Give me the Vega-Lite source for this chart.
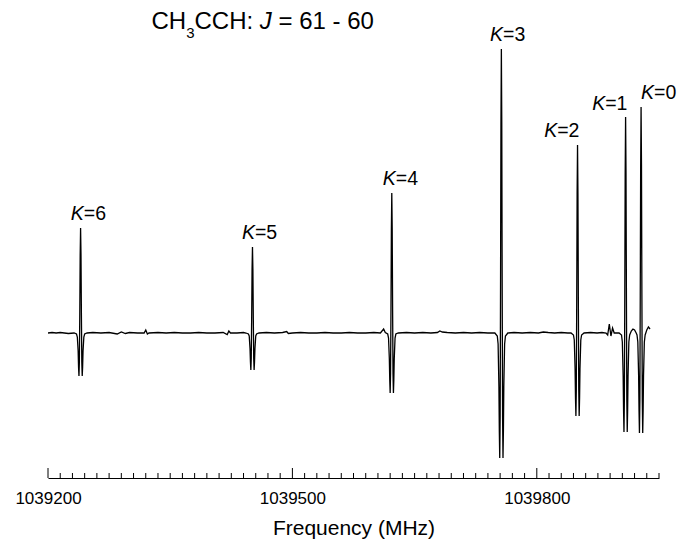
{
  "$schema": "https://vega.github.io/schema/vega-lite/v6.json",
  "width": 611,
  "height": 473,
  "autosize": {"type": "none"},
  "padding": {"left": 48, "top": 5, "right": 35, "bottom": 61},
  "config": {"view": {"stroke": null}, "font": "Liberation Sans"},
  "datasets": {
    "spectrum": [
      {"f": 1039200, "i": 0}, {"f": 1039205, "i": 0.5}, {"f": 1039210, "i": 0}, {"f": 1039215, "i": 0.5}, {"f": 1039220, "i": 0}, {"f": 1039225, "i": -0.5}, {"f": 1039232, "i": 0},
      {"f": 1039235, "i": -1}, {"f": 1039236, "i": -4}, {"f": 1039237, "i": -18}, {"f": 1039237.5, "i": -34}, {"f": 1039238, "i": -43}, {"f": 1039238.5, "i": -29}, {"f": 1039239, "i": 18}, {"f": 1039239.5, "i": 78}, {"f": 1039240, "i": 105}, {"f": 1039240.5, "i": 78}, {"f": 1039241, "i": 18}, {"f": 1039241.5, "i": -29}, {"f": 1039242, "i": -43}, {"f": 1039242.5, "i": -34}, {"f": 1039243, "i": -18}, {"f": 1039244, "i": -4}, {"f": 1039245, "i": -1}, {"f": 1039248, "i": 0},
      {"f": 1039255, "i": 0.5}, {"f": 1039265, "i": 0}, {"f": 1039275, "i": 0.5}, {"f": 1039285, "i": -1}, {"f": 1039290, "i": 1}, {"f": 1039295, "i": -0.5}, {"f": 1039300, "i": 0.5}, {"f": 1039310, "i": 0}, {"f": 1039318, "i": 0}, {"f": 1039320, "i": 3}, {"f": 1039322, "i": -1}, {"f": 1039324, "i": 0}, {"f": 1039335, "i": 0.5}, {"f": 1039345, "i": 0}, {"f": 1039355, "i": 0.5}, {"f": 1039365, "i": 0}, {"f": 1039375, "i": 0}, {"f": 1039385, "i": 0.5}, {"f": 1039395, "i": 0}, {"f": 1039405, "i": 0}, {"f": 1039415, "i": 0.5}, {"f": 1039420, "i": -1.5}, {"f": 1039422, "i": 2}, {"f": 1039424, "i": 0}, {"f": 1039432, "i": 0}, {"f": 1039440, "i": 0.5}, {"f": 1039443, "i": 0},
      {"f": 1039446, "i": -1}, {"f": 1039447, "i": -3}, {"f": 1039448, "i": -16}, {"f": 1039448.5, "i": -29}, {"f": 1039449, "i": -37}, {"f": 1039449.5, "i": -25}, {"f": 1039450, "i": 15}, {"f": 1039450.5, "i": 64}, {"f": 1039451, "i": 86}, {"f": 1039451.5, "i": 64}, {"f": 1039452, "i": 15}, {"f": 1039452.5, "i": -25}, {"f": 1039453, "i": -37}, {"f": 1039453.5, "i": -29}, {"f": 1039454, "i": -16}, {"f": 1039455, "i": -3}, {"f": 1039456, "i": -1}, {"f": 1039459, "i": 0},
      {"f": 1039468, "i": 0.5}, {"f": 1039478, "i": 0}, {"f": 1039488, "i": 0.5}, {"f": 1039493, "i": 1.5}, {"f": 1039495, "i": -0.5}, {"f": 1039500, "i": 0}, {"f": 1039510, "i": 0.5}, {"f": 1039520, "i": 0}, {"f": 1039530, "i": 0}, {"f": 1039540, "i": 0.5}, {"f": 1039550, "i": 0}, {"f": 1039560, "i": 0}, {"f": 1039570, "i": 0.5}, {"f": 1039580, "i": 0}, {"f": 1039590, "i": 0}, {"f": 1039600, "i": 0.5}, {"f": 1039608, "i": 0}, {"f": 1039612, "i": 4}, {"f": 1039614, "i": 0.5},
      {"f": 1039617, "i": -1}, {"f": 1039618, "i": -5}, {"f": 1039619, "i": -26}, {"f": 1039619.5, "i": -47}, {"f": 1039620, "i": -60}, {"f": 1039620.5, "i": -40}, {"f": 1039621, "i": 24}, {"f": 1039621.5, "i": 104}, {"f": 1039622, "i": 140}, {"f": 1039622.5, "i": 104}, {"f": 1039623, "i": 24}, {"f": 1039623.5, "i": -40}, {"f": 1039624, "i": -60}, {"f": 1039624.5, "i": -47}, {"f": 1039625, "i": -26}, {"f": 1039626, "i": -5}, {"f": 1039627, "i": -1}, {"f": 1039630, "i": 0},
      {"f": 1039640, "i": 0.5}, {"f": 1039650, "i": 0}, {"f": 1039660, "i": 0.5}, {"f": 1039670, "i": 0}, {"f": 1039678, "i": 0.5}, {"f": 1039681, "i": 2}, {"f": 1039684, "i": 1}, {"f": 1039690, "i": 0.5}, {"f": 1039700, "i": 0}, {"f": 1039710, "i": 0.5}, {"f": 1039720, "i": 0}, {"f": 1039730, "i": 0.5}, {"f": 1039740, "i": 0}, {"f": 1039748.5, "i": 0},
      {"f": 1039751.5, "i": -3}, {"f": 1039752.5, "i": -11}, {"f": 1039753.5, "i": -54}, {"f": 1039754, "i": -98}, {"f": 1039754.5, "i": -125}, {"f": 1039755, "i": -84}, {"f": 1039755.5, "i": 48}, {"f": 1039756, "i": 210}, {"f": 1039756.5, "i": 284}, {"f": 1039757, "i": 210}, {"f": 1039757.5, "i": 48}, {"f": 1039758, "i": -84}, {"f": 1039758.5, "i": -125}, {"f": 1039759, "i": -98}, {"f": 1039759.5, "i": -54}, {"f": 1039760.5, "i": -11}, {"f": 1039761.5, "i": -3}, {"f": 1039764.5, "i": 0},
      {"f": 1039772, "i": 0.5}, {"f": 1039782, "i": 0}, {"f": 1039792, "i": 0.5}, {"f": 1039802, "i": 0}, {"f": 1039808, "i": 1}, {"f": 1039814, "i": 0.5}, {"f": 1039822, "i": 0}, {"f": 1039830, "i": 0.5}, {"f": 1039838, "i": 0}, {"f": 1039842, "i": 0},
      {"f": 1039845, "i": -2}, {"f": 1039846, "i": -7}, {"f": 1039847, "i": -36}, {"f": 1039847.5, "i": -65}, {"f": 1039848, "i": -83}, {"f": 1039848.5, "i": -56}, {"f": 1039849, "i": 32}, {"f": 1039849.5, "i": 139}, {"f": 1039850, "i": 188}, {"f": 1039850.5, "i": 139}, {"f": 1039851, "i": 32}, {"f": 1039851.5, "i": -56}, {"f": 1039852, "i": -83}, {"f": 1039852.5, "i": -65}, {"f": 1039853, "i": -36}, {"f": 1039854, "i": -7}, {"f": 1039855, "i": -2}, {"f": 1039858, "i": 0},
      {"f": 1039866, "i": 0.5}, {"f": 1039874, "i": 0}, {"f": 1039880, "i": 0.5}, {"f": 1039885, "i": 0}, {"f": 1039887, "i": -2}, {"f": 1039889, "i": 9}, {"f": 1039891, "i": -3}, {"f": 1039893, "i": 5}, {"f": 1039895, "i": 0}, {"f": 1039901, "i": 0},
      {"f": 1039904, "i": -2}, {"f": 1039905, "i": -9}, {"f": 1039906, "i": -43}, {"f": 1039906.5, "i": -77}, {"f": 1039907, "i": -99}, {"f": 1039907.5, "i": -66}, {"f": 1039908, "i": 37}, {"f": 1039908.5, "i": 160}, {"f": 1039909, "i": 216}, {"f": 1039909.5, "i": 160}, {"f": 1039910, "i": 37}, {"f": 1039910.5, "i": -66}, {"f": 1039911, "i": -99}, {"f": 1039911.5, "i": -77}, {"f": 1039912, "i": -43}, {"f": 1039913, "i": -9},
      {"f": 1039914, "i": -2}, {"f": 1039916, "i": 2}, {"f": 1039918, "i": 4}, {"f": 1039920, "i": 3}, {"f": 1039922, "i": 0},
      {"f": 1039923, "i": -2}, {"f": 1039924, "i": -9}, {"f": 1039925, "i": -43}, {"f": 1039925.5, "i": -78}, {"f": 1039926, "i": -100}, {"f": 1039926.5, "i": -67}, {"f": 1039927, "i": 38}, {"f": 1039927.5, "i": 167}, {"f": 1039928, "i": 226}, {"f": 1039928.5, "i": 167}, {"f": 1039929, "i": 38}, {"f": 1039929.5, "i": -67}, {"f": 1039930, "i": -100}, {"f": 1039930.5, "i": -78}, {"f": 1039931, "i": -43}, {"f": 1039932, "i": -9}, {"f": 1039933, "i": -2}, {"f": 1039935, "i": 3}, {"f": 1039937, "i": 6}, {"f": 1039939, "i": 4}
    ],
    "minorTicks": [
      {"f": 1039215}, {"f": 1039230}, {"f": 1039245}, {"f": 1039260}, {"f": 1039275}, {"f": 1039290}, {"f": 1039305}, {"f": 1039320}, {"f": 1039335}, {"f": 1039350}, {"f": 1039365}, {"f": 1039380}, {"f": 1039395}, {"f": 1039410}, {"f": 1039425}, {"f": 1039440}, {"f": 1039455}, {"f": 1039470}, {"f": 1039485},
      {"f": 1039515}, {"f": 1039530}, {"f": 1039545}, {"f": 1039560}, {"f": 1039575}, {"f": 1039590}, {"f": 1039605}, {"f": 1039620}, {"f": 1039635}, {"f": 1039650}, {"f": 1039665}, {"f": 1039680}, {"f": 1039695}, {"f": 1039710}, {"f": 1039725}, {"f": 1039740}, {"f": 1039755}, {"f": 1039770}, {"f": 1039785},
      {"f": 1039815}, {"f": 1039830}, {"f": 1039845}, {"f": 1039860}, {"f": 1039875}, {"f": 1039890}, {"f": 1039905}, {"f": 1039920}, {"f": 1039935}, {"f": 1039950}
    ],
    "majorTicks": [{"f": 1039200}, {"f": 1039500}, {"f": 1039800}],
    "klabels": [
      {"f": 1039244, "i": 113, "n": "=6"},
      {"f": 1039454, "i": 94, "n": "=5"},
      {"f": 1039627, "i": 148, "n": "=4"},
      {"f": 1039758.5, "i": 292, "n": "=3"},
      {"f": 1039825, "i": 196, "n": "=2"},
      {"f": 1039884, "i": 223, "n": "=1"},
      {"f": 1039944, "i": 234, "n": "=0"}
    ],
    "title": [{"f": 1039327, "i": 304}]
  },
  "layer": [
    {
      "data": {"name": "spectrum"},
      "mark": {"type": "line", "color": "black", "strokeWidth": 1.3},
      "encoding": {
        "x": {
          "field": "f", "type": "quantitative",
          "scale": {"domain": [1039200, 1039950], "nice": false, "zero": false},
          "axis": {
            "title": "Frequency (MHz)",
            "grid": false,
            "format": "d",
            "values": [1039200, 1039500, 1039800],
            "ticks": false,
            "labelOverlap": false,
            "labelFlush": false,
            "domainColor": "black",
            "domainWidth": 1,
            "labelColor": "black",
            "labelFontSize": 17,
            "labelFont": "Liberation Sans",
            "labelPadding": 12,
            "titleColor": "black",
            "titleFont": "Liberation Sans",
            "titleFontSize": 21,
            "titleFontWeight": "normal",
            "titlePadding": 11
          }
        },
        "y": {
          "field": "i", "type": "quantitative",
          "scale": {"domain": [-145, 328], "nice": false, "zero": false},
          "axis": null
        }
      }
    },
    {
      "data": {"name": "minorTicks"},
      "mark": {"type": "rule", "color": "black", "strokeWidth": 1},
      "encoding": {
        "x": {"field": "f", "type": "quantitative"},
        "y": {"datum": -145, "type": "quantitative"},
        "y2": {"datum": -140}
      }
    },
    {
      "data": {"name": "majorTicks"},
      "mark": {"type": "rule", "color": "black", "strokeWidth": 1},
      "encoding": {
        "x": {"field": "f", "type": "quantitative"},
        "y": {"datum": -145, "type": "quantitative"},
        "y2": {"datum": -135}
      }
    },
    {
      "data": {"name": "klabels"},
      "mark": {"type": "text", "align": "right", "baseline": "alphabetic", "fontSize": 19.5, "fontStyle": "italic", "color": "black", "font": "Liberation Sans"},
      "encoding": {
        "x": {"field": "f", "type": "quantitative"},
        "y": {"field": "i", "type": "quantitative"},
        "text": {"value": "K"}
      }
    },
    {
      "data": {"name": "klabels"},
      "mark": {"type": "text", "align": "left", "baseline": "alphabetic", "fontSize": 19.5, "color": "black", "font": "Liberation Sans"},
      "encoding": {
        "x": {"field": "f", "type": "quantitative"},
        "y": {"field": "i", "type": "quantitative"},
        "text": {"field": "n"}
      }
    },
    {
      "data": {"name": "title"},
      "mark": {"type": "text", "align": "left", "baseline": "alphabetic", "fontSize": 24, "color": "black", "font": "Liberation Sans"},
      "encoding": {"x": {"field": "f", "type": "quantitative"}, "y": {"field": "i", "type": "quantitative"}, "text": {"value": "CH"}}
    },
    {
      "data": {"name": "title"},
      "mark": {"type": "text", "align": "left", "baseline": "alphabetic", "fontSize": 15, "dx": 34.7, "dy": 8.5, "color": "black", "font": "Liberation Sans"},
      "encoding": {"x": {"field": "f", "type": "quantitative"}, "y": {"field": "i", "type": "quantitative"}, "text": {"value": "3"}}
    },
    {
      "data": {"name": "title"},
      "mark": {"type": "text", "align": "left", "baseline": "alphabetic", "fontSize": 24, "dx": 43, "color": "black", "font": "Liberation Sans"},
      "encoding": {"x": {"field": "f", "type": "quantitative"}, "y": {"field": "i", "type": "quantitative"}, "text": {"value": "CCH:"}}
    },
    {
      "data": {"name": "title"},
      "mark": {"type": "text", "align": "left", "baseline": "alphabetic", "fontSize": 24, "fontStyle": "italic", "dx": 108.4, "color": "black", "font": "Liberation Sans"},
      "encoding": {"x": {"field": "f", "type": "quantitative"}, "y": {"field": "i", "type": "quantitative"}, "text": {"value": "J"}}
    },
    {
      "data": {"name": "title"},
      "mark": {"type": "text", "align": "left", "baseline": "alphabetic", "fontSize": 24, "dx": 127.1, "color": "black", "font": "Liberation Sans"},
      "encoding": {"x": {"field": "f", "type": "quantitative"}, "y": {"field": "i", "type": "quantitative"}, "text": {"value": "= 61 - 60"}}
    }
  ]
}
